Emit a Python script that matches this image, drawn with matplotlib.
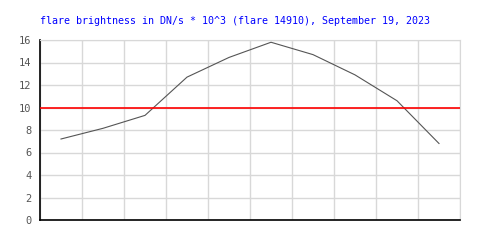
import matplotlib
matplotlib.use("Agg")
import matplotlib.pyplot as plt
import numpy as np

title = "flare brightness in DN/s * 10^3 (flare 14910), September 19, 2023"
values = [7.2, 8.15, 9.3, 12.7, 14.45, 15.8, 14.7, 12.9, 10.6, 6.8]
threshold = 10
yticks = [0, 2, 4, 6, 8, 10, 12, 14, 16]

fig = plt.figure(figsize=(5, 2.5), dpi=100)
ax = fig.add_axes([0.08, 0.12, 0.84, 0.72])
x = np.arange(len(values))
ax.plot(x, values, color="#555555", lw=0.8)
ax.axhline(threshold, color="red", lw=1.2, zorder=3)
ax.set_xlim(-0.5, len(values) - 0.5)
ax.set_ylim(0, 16)
ax.set_xticks(np.arange(-0.5, len(values), 1.0))
ax.set_xticklabels([])
ax.set_yticks(yticks)
ax.set_yticklabels([str(t) for t in yticks], family="DejaVu Sans Mono", fontsize=7.5, color="#555555")
ax.tick_params(length=0, pad=6)
ax.grid(True, color="#d8d8d8", lw=1)
ax.set_axisbelow(True)
for s in ["top", "right"]:
    ax.spines[s].set_color("#d8d8d8")
for s in ["left", "bottom"]:
    ax.spines[s].set_color("black")
    ax.spines[s].set_linewidth(1.2)
fig.text(0.08, 0.905, title, color="blue", family="DejaVu Sans Mono", fontsize=7.2, ha="left", va="baseline")
fig.savefig("out.png", dpi=100)
